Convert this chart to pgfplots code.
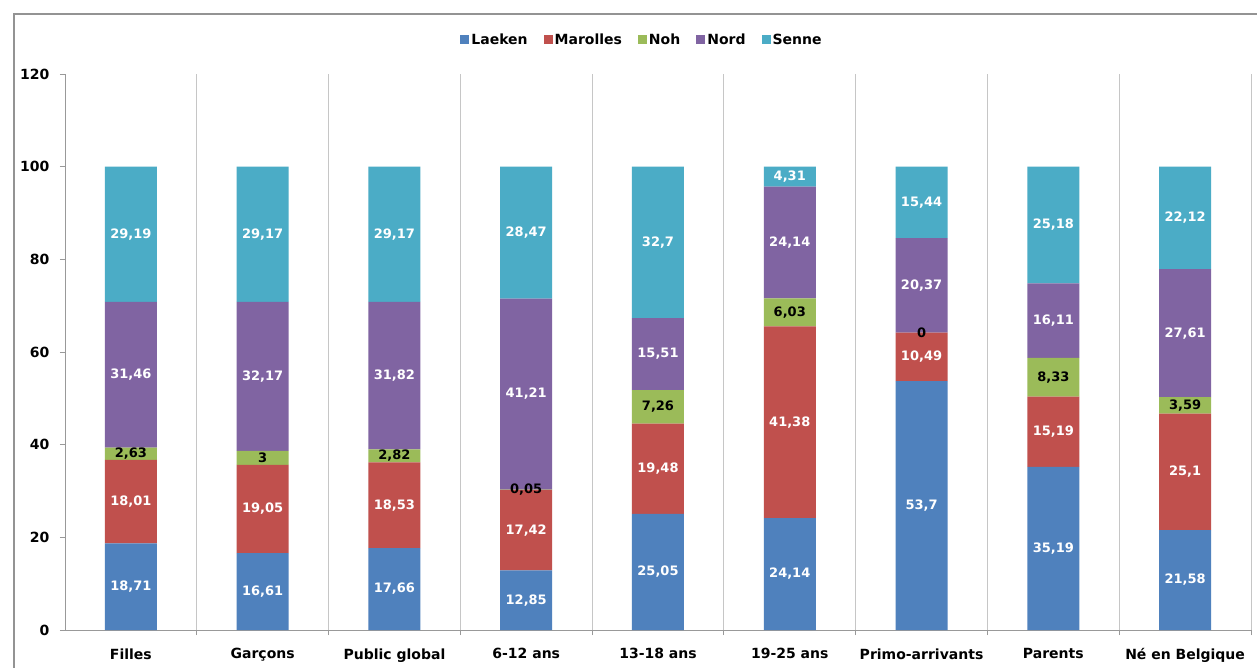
\documentclass[border=0pt]{standalone}
\usepackage{fontspec}
\setmainfont{DejaVu Sans}
\usepackage{pgfplots}
\pgfplotsset{compat=1.18}
\definecolor{cLaeken}{HTML}{4F81BD}
\definecolor{cMarolles}{HTML}{C0504D}
\definecolor{cNoh}{HTML}{9BBB59}
\definecolor{cNord}{HTML}{8064A2}
\definecolor{cSenne}{HTML}{4BACC6}
\begin{document}
\begin{tikzpicture}
\useasboundingbox (0,0) rectangle (1257pt,667pt);
\fill[white] (0,0) rectangle (1257pt,667pt);
\draw[gray!85, line width=1.3pt] (14pt,-10pt) rectangle (1270pt,653pt);
\begin{axis}[
  at={(65pt,37pt)}, anchor=south west,
  scale only axis, width=1186pt, height=556pt,
  ybar stacked, bar width=52pt,
  xmin=-0.5, xmax=8.5, ymin=0, ymax=120,
  axis lines=left, axis line style={-, draw=gray!80, line width=0.8pt},
  ytick={0,20,...,120},
  xtick={0.5,1.5,...,8.5}, xticklabels={},
  xmajorgrids, major grid style={gray!45, line width=0.8pt},
  tick align=outside, major tick length=5pt,
  tick style={gray!80, line width=0.8pt},
  extra x ticks={0,1,2,3,4,5,6,7,8},
  extra x tick labels={Filles,Garçons,Public global,6-12 ans,13-18 ans,19-25 ans,Primo-arrivants,Parents,Né en Belgique},
  extra x tick style={grid=none, major tick length=0pt, xticklabel style={yshift=-15pt}},
  ticklabel style={font=\fontsize{14}{16}\selectfont\bfseries, black},
  yticklabel style={xshift=-7pt},
  /pgf/number format/assume math mode=true,
  nodes near coords={\pgfmathprintnumber[use comma,fixed,precision=2]{\pgfplotspointmeta}},
  every node near coord/.append style={font=\fontsize{13}{15}\selectfont\bfseries, white, anchor=center},
  legend columns=-1,
  legend style={at={(0.4865,1)}, anchor=center, yshift=34pt, draw=none,
    font=\fontsize{14}{16}\selectfont\bfseries,
    /tikz/every even column/.append style={column sep=14pt}},
  legend image code/.code={\fill[#1] (0pt,-4.5pt) rectangle (9pt,4.5pt);},
]
% x positions: 0 Filles, 1 Garçons, 2 Public global, 3 6-12, 4 13-18, 5 19-25, 6 Primo-arrivants, 7 Parents, 8 Né en Belgique
\addplot[fill=cLaeken, draw=none] coordinates {(0,18.71) (1,16.61) (2,17.66) (3,12.85) (4,25.05) (5,24.14) (6,53.7) (7,35.19) (8,21.58)};
\addlegendentry{Laeken}
\addplot[fill=cMarolles, draw=none] coordinates {(0,18.01) (1,19.05) (2,18.53) (3,17.42) (4,19.48) (5,41.38) (6,10.49) (7,15.19) (8,25.1)};
\addlegendentry{Marolles}
\addplot[fill=cNoh, draw=none, every node near coord/.append style={black}] coordinates {(0,2.63) (1,3) (2,2.82) (3,0.05) (4,7.26) (5,6.03) (6,0) (7,8.33) (8,3.59)};
\addlegendentry{Noh}
\addplot[fill=cNord, draw=none] coordinates {(0,31.46) (1,32.17) (2,31.82) (3,41.21) (4,15.51) (5,24.14) (6,20.37) (7,16.11) (8,27.61)};
\addlegendentry{Nord}
\addplot[fill=cSenne, draw=none] coordinates {(0,29.19) (1,29.17) (2,29.17) (3,28.47) (4,32.7) (5,4.31) (6,15.44) (7,25.18) (8,22.12)};
\addlegendentry{Senne}
% the empty Noh segment of Primo-arrivants: its label sits on the joint at 53.7 + 10.49
% (labels are centred at half their height, so lift it by the other half: 32.095 units = 148.71pt)
\addplot[stack plots=false, forget plot, only marks, mark=none, point meta=explicit,
  every node near coord/.append style={black, yshift=148.71pt}] coordinates {(6,64.19) [0]};
\end{axis}
\end{tikzpicture}
\end{document}
